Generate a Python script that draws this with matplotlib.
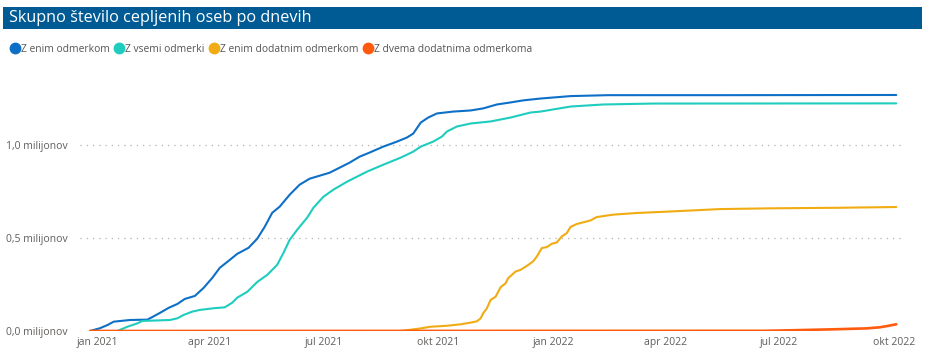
import matplotlib
matplotlib.use("Agg")
import matplotlib.pyplot as plt
from matplotlib.lines import Line2D
from matplotlib.patches import Rectangle
import pandas as pd

# ---------------- data (millions of people) ----------------
title = "Skupno število cepljenih oseb po dnevih"
series_names = ["Z enim odmerkom", "Z vsemi odmerki",
                "Z enim dodatnim odmerkom", "Z dvema dodatnima odmerkoma"]
colors = ["#0E6FC7", "#1FCDBE", "#F0AC12", "#FF5A0E"]

blue_dates = ["2020-12-26", "2021-01-03", "2021-01-09", "2021-01-14", "2021-01-27",
              "2021-02-10", "2021-02-14", "2021-02-20", "2021-02-27", "2021-03-06",
              "2021-03-12", "2021-03-20", "2021-03-27", "2021-04-03", "2021-04-09",
              "2021-04-16", "2021-04-23", "2021-05-02", "2021-05-09", "2021-05-15",
              "2021-05-21", "2021-05-27", "2021-06-04", "2021-06-12", "2021-06-20",
              "2021-06-28", "2021-07-06", "2021-07-14", "2021-07-22", "2021-07-30",
              "2021-08-07", "2021-08-18", "2021-08-29", "2021-09-06", "2021-09-11",
              "2021-09-17", "2021-09-23", "2021-09-30", "2021-10-13", "2021-10-27",
              "2021-11-06", "2021-11-17", "2021-11-28", "2021-12-08", "2021-12-22",
              "2022-01-15", "2022-02-14", "2022-05-15", "2022-10-03"]
blue_vals = [0.000, 0.015, 0.032, 0.050, 0.059,
             0.061, 0.075, 0.097, 0.124, 0.145,
             0.172, 0.188, 0.231, 0.285, 0.339,
             0.376, 0.414, 0.446, 0.495, 0.559,
             0.634, 0.667, 0.731, 0.785, 0.817,
             0.833, 0.849, 0.876, 0.903, 0.935,
             0.957, 0.989, 1.016, 1.038, 1.059,
             1.118, 1.145, 1.167, 1.177, 1.183,
             1.194, 1.215, 1.226, 1.237, 1.247,
             1.260, 1.265, 1.265, 1.266]

teal_dates = ["2021-01-17", "2021-01-25", "2021-02-02", "2021-02-06", "2021-02-28",
              "2021-03-06", "2021-03-11", "2021-03-18", "2021-03-24", "2021-04-04",
              "2021-04-13", "2021-04-19", "2021-04-23", "2021-05-01", "2021-05-09",
              "2021-05-17", "2021-05-25", "2021-05-30", "2021-06-04", "2021-06-10",
              "2021-06-18", "2021-06-23", "2021-07-01", "2021-07-09", "2021-07-20",
              "2021-08-05", "2021-08-18", "2021-09-01", "2021-09-11", "2021-09-17",
              "2021-09-27", "2021-10-04", "2021-10-08", "2021-10-16", "2021-10-27",
              "2021-11-12", "2021-11-28", "2021-12-14", "2021-12-22", "2022-01-15",
              "2022-02-10", "2022-03-22", "2022-10-03"]
teal_vals = [0.000, 0.023, 0.041, 0.054, 0.059,
             0.068, 0.086, 0.104, 0.113, 0.122,
             0.127, 0.152, 0.179, 0.210, 0.263,
             0.301, 0.355, 0.419, 0.489, 0.543,
             0.608, 0.661, 0.720, 0.758, 0.801,
             0.855, 0.892, 0.930, 0.962, 0.989,
             1.016, 1.043, 1.070, 1.097, 1.113,
             1.124, 1.145, 1.172, 1.177, 1.204,
             1.215, 1.220, 1.221]

gold_dates = ["2021-09-01", "2021-09-17", "2021-09-25", "2021-10-08", "2021-10-19",
              "2021-10-27", "2021-11-01", "2021-11-04", "2021-11-06", "2021-11-09",
              "2021-11-12", "2021-11-16", "2021-11-20", "2021-11-24", "2021-11-26",
              "2021-12-02", "2021-12-06", "2021-12-11", "2021-12-16", "2021-12-19",
              "2021-12-23", "2021-12-27", "2021-12-31", "2022-01-04", "2022-01-08",
              "2022-01-12", "2022-01-15", "2022-01-20", "2022-01-31", "2022-02-05",
              "2022-02-18", "2022-03-09", "2022-04-05", "2022-05-15", "2022-06-24",
              "2022-08-17", "2022-10-03"]
gold_vals = [0.000, 0.014, 0.023, 0.028, 0.036,
             0.045, 0.052, 0.068, 0.095, 0.122,
             0.167, 0.184, 0.235, 0.256, 0.283,
             0.319, 0.328, 0.349, 0.373, 0.399,
             0.445, 0.450, 0.468, 0.475, 0.507,
             0.525, 0.558, 0.574, 0.593, 0.611,
             0.624, 0.633, 0.641, 0.654, 0.658,
             0.661, 0.665]

red_dates = ["2020-12-26", "2022-06-20", "2022-07-12", "2022-08-13", "2022-09-09",
             "2022-09-20", "2022-09-26", "2022-10-03"]
red_vals = [0.000, 0.001, 0.004, 0.009, 0.014,
            0.020, 0.027, 0.036]

x_tick_dates = ["2021-01-01", "2021-04-01", "2021-07-01", "2021-10-01",
                "2022-01-01", "2022-04-01", "2022-07-01", "2022-10-01"]
x_tick_labels = ["jan 2021", "apr 2021", "jul 2021", "okt 2021",
                 "jan 2022", "apr 2022", "jul 2022", "okt 2022"]
y_ticks = [0.0, 0.5, 1.0]
y_tick_labels = ["0,0 milijonov", "0,5 milijonov", "1,0 milijonov"]

# ---------------- figure ----------------
plt.rcParams['font.family'] = ['Open Sans', 'DejaVu Sans']
W, H = 940, 352
fig = plt.figure(figsize=(W / 100, H / 100), dpi=100)

# title bar
fig.patches.append(Rectangle((3 / W, 1 - 29 / H), 919 / W, 22 / H,
                             transform=fig.transFigure, facecolor="#005B94",
                             edgecolor="none", zorder=0))
fig.text(9 / W, 1 - 18.5 / H, title, color="white", fontsize=11.7,
         va="center", ha="left")

# axes: x pixels 80..905, y pixels 70..331
ax = fig.add_axes([80 / W, 1 - 331 / H, 825 / W, 261 / H])
ax.set_ylim(0, 1.4)
ax.set_xlim(pd.Timestamp("2020-12-18"), pd.Timestamp("2022-10-10"))

all_dates = [blue_dates, teal_dates, gold_dates, red_dates]
all_vals = [blue_vals, teal_vals, gold_vals, red_vals]
widths = [1.5, 1.5, 1.5, 1.9]
for i, (d, v) in enumerate(zip(all_dates, all_vals)):
    ax.plot(pd.to_datetime(d), v, color=colors[i], lw=widths[i],
            solid_joinstyle="round", solid_capstyle="round", zorder=3 + i)

for yv in y_ticks:
    ax.axhline(yv, color="#B3B3B3", lw=0.9, ls=(0, (1, 4)), zorder=1)

ax.set_yticks(y_ticks)
ax.set_yticklabels(y_tick_labels)
ax.set_xticks(pd.to_datetime(x_tick_dates))
ax.set_xticklabels(x_tick_labels)
ax.tick_params(length=0, labelsize=7.5, colors="#605E5C", pad=4)
ax.tick_params(axis="y", pad=9)
for s in ax.spines.values():
    s.set_visible(False)
ax.set_facecolor("none")

# legend
handles = [Line2D([0], [0], marker="o", ls="none", markersize=7.5,
                  markerfacecolor=c, markeredgecolor=c) for c in colors]
fig.legend(handles, series_names, loc="center left",
           bbox_to_anchor=(11 / W, 1 - 49 / H), ncol=4, frameon=False,
           fontsize=7.4, labelcolor="#555555", handlelength=0.7,
           handletextpad=0.25, columnspacing=0.55, borderpad=0, borderaxespad=0)

fig.savefig("out.png", dpi=100)
